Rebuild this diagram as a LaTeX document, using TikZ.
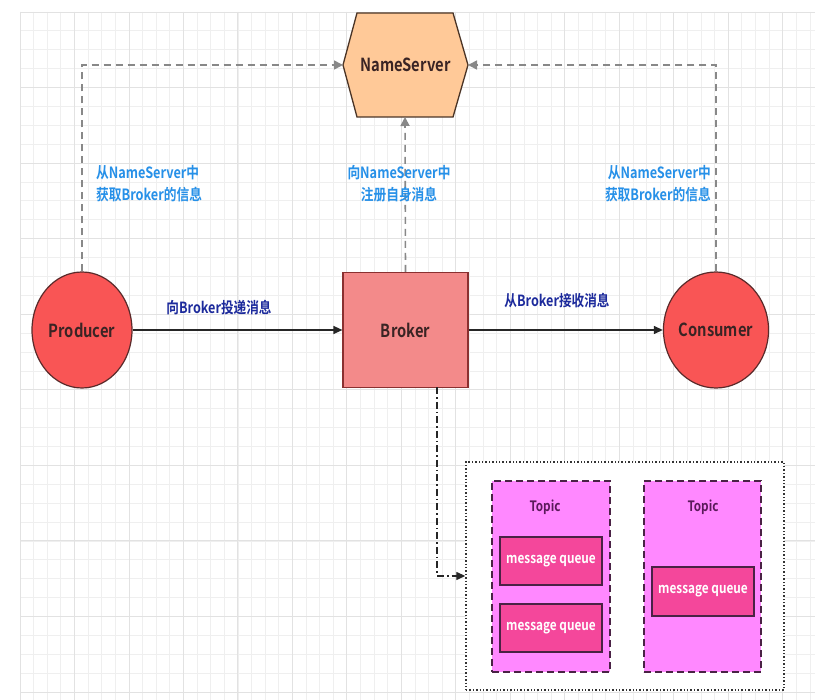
\documentclass[tikz,border=0pt]{standalone}
\usepackage{fontspec}
\setmainfont{Noto Sans CJK SC}[BoldFont={Noto Sans CJK SC Bold}, FakeStretch=0.82]
\usetikzlibrary{shapes.geometric,arrows.meta}
\definecolor{gridminor}{HTML}{EFEFEF}
\definecolor{gridmajor}{HTML}{E2E2E2}
\definecolor{nsfill}{HTML}{FFC998}
\definecolor{nsdraw}{HTML}{4A3426}
\definecolor{redfill}{HTML}{F95555}
\definecolor{reddraw}{HTML}{5A2A2A}
\definecolor{brfill}{HTML}{F38A8A}
\definecolor{brdraw}{HTML}{8A3030}
\definecolor{nodetext}{HTML}{3A2424}
\definecolor{lblue}{HTML}{2690E8}
\definecolor{dblue}{HTML}{1C2A9C}
\definecolor{dashgray}{HTML}{888888}
\definecolor{topicfill}{HTML}{FF88FF}
\definecolor{topicdraw}{HTML}{4A2245}
\definecolor{topictext}{HTML}{5A1A5A}
\definecolor{mqfill}{HTML}{F4479B}
\tikzset{
  ent/.style={ellipse, draw=reddraw, fill=redfill, line width=1.2pt, minimum width=100pt, minimum height=116pt, inner sep=0pt, text=nodetext, font=\bfseries\fontsize{18}{20}\selectfont},
  brokerbox/.style={rectangle, draw=brdraw, fill=brfill, line width=1.2pt, minimum width=125pt, minimum height=115pt, text=nodetext, font=\bfseries\fontsize{18}{20}\selectfont},
  solidarrow/.style={line width=1.3pt, draw=black!85, -{Triangle[length=9pt,width=8pt]}},
  grayarrow/.style={line width=1.6pt, draw=dashgray, dash pattern=on 7pt off 5pt, -{Triangle[length=9pt,width=9pt]}},
  dasharrow/.style={line width=1.3pt, draw=black!85, dash pattern=on 7pt off 3pt on 1.5pt off 3pt, -{Triangle[length=9pt,width=8pt]}},
  bluelbl/.style={text=lblue, font=\bfseries\fontsize{15.5}{22}\selectfont, inner sep=0pt},
  darklbl/.style={text=dblue, font=\bfseries\fontsize{15.4}{17}\selectfont, inner sep=0pt},
  storebox/.style={rectangle, draw=black!80, fill=white, line width=1.4pt, dash pattern=on 1.4pt off 2pt, minimum width=318pt, minimum height=228pt},
  topicbox/.style={rectangle, draw=topicdraw, fill=topicfill, line width=1.8pt, dash pattern=on 7pt off 4pt, minimum height=191pt},
  topiclbl/.style={text=topictext, font=\bfseries\fontsize{14.3}{16}\selectfont, inner sep=0pt},
  mqbox/.style={rectangle, draw=topicdraw, fill=mqfill, line width=1.5pt, minimum width=102pt, minimum height=48pt, text=white, font=\bfseries\fontsize{14.4}{16}\selectfont, inner sep=0pt}
}
\begin{document}
\begin{tikzpicture}[x=1pt,y=-1pt]
\useasboundingbox (0,0) rectangle (815,700);
\fill[white] (0,0) rectangle (815,700);
% grid
\foreach \i in {0,...,58} \draw[gridminor, line width=0.8pt] ({20+\i*13.62},12) -- ({20+\i*13.62},700);
\foreach \j in {0,...,36} \draw[gridminor, line width=0.8pt] (20,{12+\j*18.89}) -- (815,{12+\j*18.89});
\foreach \j in {0,4,...,36} \draw[gridmajor, line width=0.9pt] (20,{12+\j*18.89}) -- (815,{12+\j*18.89});
\foreach \i in {0,4,...,56} \draw[gridmajor, line width=0.9pt] ({20+\i*13.62},12) -- ({20+\i*13.62},700);

% NameServer hexagon
\filldraw[fill=nsfill, draw=nsdraw, line width=1.3pt] (357,13) -- (453,13) -- (468,65) -- (453,117) -- (357,117) -- (343,65) -- cycle;
\node[text=nodetext, font=\bfseries\fontsize{18}{20}\selectfont] (ns) at (405.5,65) {NameServer};
\coordinate (nsL) at (343,65);
\coordinate (nsR) at (468,65);
\coordinate (nsB) at (405,117);

% main nodes
\node[ent] (prod) at (82,330) {Producer};
\node[brokerbox] (broker) at (405.5,330) {Broker};
\node[ent] (cons) at (716,330) {Consumer};

% store
\node[storebox] (store) at (625,576) {};
\node[topicbox, minimum width=118pt] (t1) at (551,576.5) {};
\node[topicbox, minimum width=117pt] (t2) at (702.5,576.5) {};
\node[topiclbl] (t1l) at (545,507) {Topic};
\node[topiclbl] (t2l) at (703,507) {Topic};
\node[mqbox] (mq1) at (551,561) {message queue};
\node[mqbox] (mq2) at (551,628) {message queue};
\node[mqbox, minimum height=49pt] (mq3) at (703,591.5) {message queue};

% connectors
\draw[solidarrow] (prod) -- (broker);
\draw[solidarrow] (broker) -- (cons);
\draw[grayarrow] (prod.north) |- (nsL);
\draw[grayarrow] (broker.north) -- (nsB);
\draw[grayarrow] (cons.north) |- (nsR);
\coordinate (bq) at (437,387.5);
\draw[dasharrow] (bq) |- (store.west);

% labels
\node[bluelbl, align=left, anchor=west] (l1) at (96,184) {从NameServer中\\获取Broker的信息};
\node[bluelbl, align=center] (l2) at (399,184) {向NameServer中\\注册自身消息};
\node[bluelbl, align=right, anchor=east] (l3) at (711,184) {从NameServer中\\获取Broker的信息};
\node[darklbl] (l4) at (219,308) {向Broker投递消息};
\node[darklbl] (l5) at (557,301) {从Broker接收消息};
\end{tikzpicture}
\end{document}
